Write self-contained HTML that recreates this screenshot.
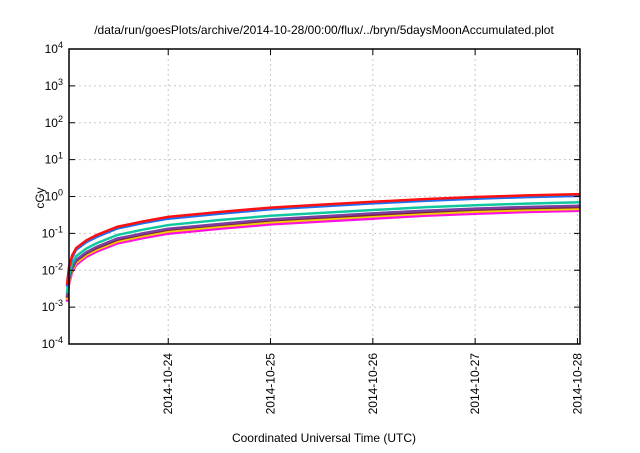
<!DOCTYPE html>
<html><head><meta charset="utf-8"><style>
body{margin:0;background:#fff;}
svg text{font-family:"Liberation Sans",sans-serif;fill:#000;}
</style></head><body>
<svg width="640" height="448" xmlns="http://www.w3.org/2000/svg">
<text x="324" y="34" font-size="12" text-anchor="middle">/data/run/goesPlots/archive/2014-10-28/00:00/flux/../bryn/5daysMoonAccumulated.plot</text>
<g id="grid"></g><g id="series"></g><g id="axes"></g>
<text x="44" y="198" font-size="12" text-anchor="middle" transform="rotate(-90 44 198)">cGy</text>
<text x="324" y="442" font-size="12" text-anchor="middle">Coordinated Universal Time (UTC)</text>
</svg>
<script>
const xTickLabels=["2014-10-24","2014-10-25","2014-10-26","2014-10-27","2014-10-28"];
const xTickDays=[1,2,3,4,5];
const yTickExps=[-4,-3,-2,-1,0,1,2,3,4];
const times=[0.01,0.03,0.06,0.1,0.2,0.3,0.5,0.75,1,1.5,2,2.5,3,3.5,4,4.5,5.03];
const seriesNames=["red","blue","teal","purple","maroon","yellow","magenta"];
const seriesColors=["#ff1010","#1e6ff0","#10c8a0","#7a3fa0","#802040","#f0d000","#ff10e0"];
const sRed=[0.004,0.012,0.025,0.04,0.065,0.09,0.15,0.21,0.28,0.38,0.5,0.6,0.72,0.85,0.97,1.07,1.16];
const sBlue=[0.0036,0.011,0.022,0.036,0.058,0.08,0.135,0.19,0.25,0.34,0.45,0.54,0.65,0.76,0.87,0.96,1.04];
const sTeal=[0.0024,0.0072,0.015,0.024,0.039,0.054,0.09,0.126,0.168,0.23,0.3,0.36,0.43,0.51,0.58,0.64,0.7];
const sPurple=[0.0019,0.0058,0.012,0.019,0.031,0.043,0.072,0.1,0.134,0.18,0.24,0.29,0.35,0.41,0.47,0.52,0.56];
const sMaroon=[0.0018,0.0054,0.011,0.018,0.029,0.04,0.067,0.094,0.126,0.17,0.225,0.27,0.32,0.38,0.44,0.48,0.52];
const sYellow=[0.0016,0.0048,0.01,0.016,0.026,0.036,0.06,0.084,0.112,0.152,0.2,0.24,0.29,0.34,0.39,0.43,0.46];
const sMagenta=[0.0014,0.0042,0.0088,0.014,0.023,0.032,0.053,0.074,0.098,0.133,0.175,0.21,0.25,0.3,0.34,0.38,0.41];
const allSeries=[sRed,sBlue,sTeal,sPurple,sMaroon,sYellow,sMagenta];
const X0=69,X1=580,Y0=49,Y1=344,DAY=102.3,START=0.03;
const ns="http://www.w3.org/2000/svg";
function xs(d){return X0+(d-START)*DAY;}
function ys(v){return Y1-(Math.log10(v)+4)/8*(Y1-Y0);}
function mk(t,a,p){const e=document.createElementNS(ns,t);for(const k in a)e.setAttribute(k,a[k]);p.appendChild(e);return e;}
const grid=document.getElementById('grid'),axes=document.getElementById('axes'),ser=document.getElementById('series');
yTickExps.forEach(e=>{const y=ys(Math.pow(10,e));
 if(e>-4&&e<4){const l=mk('line',{x1:X0,x2:X1,y1:y,y2:y,stroke:'#c8c8c8','stroke-dasharray':'2,3'},grid);}
 mk('line',{x1:X0,x2:X0+6,y1:y,y2:y,stroke:'#000'},axes);mk('line',{x1:X1,x2:X1-6,y1:y,y2:y,stroke:'#000'},axes);
 const t=mk('text',{x:X0-6,y:y+4,'font-size':12,'text-anchor':'end'},axes);
 
 
 t.innerHTML='10<tspan dy="-5" font-size="9">'+e+'</tspan>';});
xTickDays.forEach((d,i)=>{const x=xs(d);
 const l=mk('line',{x1:x,x2:x,y1:Y0,y2:Y1,stroke:'#c8c8c8','stroke-dasharray':'2,3'},grid);
 
 
 mk('line',{x1:x,x2:x,y1:Y1,y2:Y1-6,stroke:'#000'},axes);mk('line',{x1:x,x2:x,y1:Y0,y2:Y0+6,stroke:'#000'},axes);
 const t=mk('text',{x:x+4,y:Y1+9,'font-size':12,'text-anchor':'end',transform:`rotate(-90 ${x+4} ${Y1+9})`},axes);
 
 
 t.textContent=xTickLabels[i];});
const fr=mk('rect',{x:X0,y:Y0,width:X1-X0,height:Y1-Y0,fill:'none',stroke:'#000','stroke-width':1.5},axes);


for(let s=allSeries.length-1;s>=0;s--){const vals=allSeries[s];
 const pts=times.map((t,i)=>xs(Math.min(t,5.03))+','+ys(vals[i])).join(' ');
 const p=mk('polyline',{points:pts,fill:'none',stroke:seriesColors[s],'stroke-width':2.5},ser);
 
 }
</script>
</body></html>
